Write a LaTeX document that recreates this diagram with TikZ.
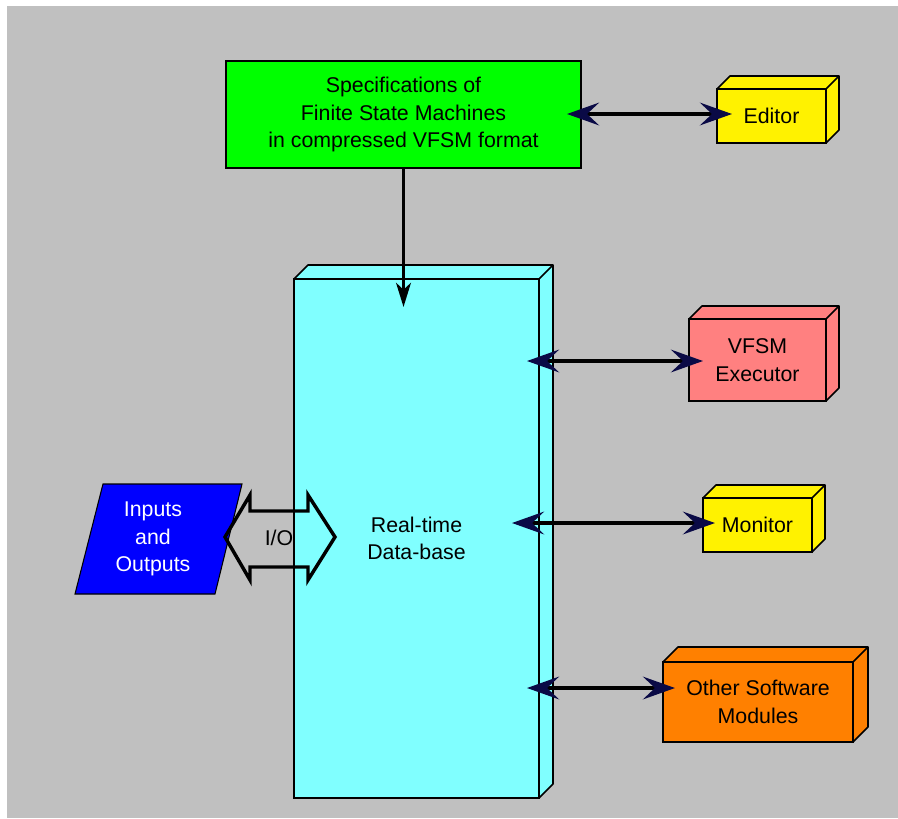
\documentclass[tikz,border=0pt]{standalone}
\usepackage{fontspec}
\setmainfont{Liberation Sans}
\usetikzlibrary{arrows.meta, calc}
\definecolor{panelgray}{HTML}{C0C0C0}
\definecolor{specgreen}{HTML}{00FF00}
\definecolor{dbcyan}{HTML}{80FFFF}
\definecolor{execred}{HTML}{FF8080}
\definecolor{modorange}{HTML}{FF8000}
\definecolor{ioblue}{HTML}{0000FF}
\definecolor{tipnavy}{HTML}{0A0A46}
\newcommand{\pxl}{0.75pt}
\tikzset{
  txt/.style={align=center, font=\fontsize{16}{20.5}\selectfont},
  block/.style={txt, draw, line width=1.2pt, outer sep=0pt, inner sep=0pt},
  link/.style={line width=2.8pt,
    {Stealth[length=24pt,width=17pt,inset=9pt,color=tipnavy]}-{Stealth[length=24pt,width=17pt,inset=9pt,color=tipnavy]}},
  feed/.style={line width=2.8pt, -{Stealth[length=18pt,width=11pt,inset=5pt]}},
}
% top and right face of a box node: name, colour, depth
\newcommand{\boxsides}[3]{%
  \filldraw[fill=#2, line width=1.2pt, line join=round] (#1.north west) -- ++(#3,-#3)
    -- ($(#1.north east)+(#3,-#3)$) -- ($(#1.south east)+(#3,-#3)$)
    -- (#1.south east) -- (#1.north east) -- cycle;
  \draw[line width=1.2pt] (#1.north east) -- ++(#3,-#3);}

\begin{document}
\begin{tikzpicture}[x=\pxl, y=-\pxl] % one unit = one pixel of the screen
  \useasboundingbox (0,0) rectangle (898,818);
  \fill[white] (0,0) rectangle (898,818);
  \fill[panelgray] (7,6) rectangle (898,818);

  \node[block, fill=specgreen, minimum width=355*\pxl, minimum height=107*\pxl] (spec) at (403.5,114.5)
    {Specifications of\\Finite State Machines\\in compressed VFSM format};
  \node[block, fill=dbcyan, minimum width=245*\pxl, minimum height=519*\pxl] (db) at (416.5,538.5)
    {Real-time\\Data-base};
  \boxsides{db}{dbcyan}{14}

  \node[block, fill=yellow, minimum width=109*\pxl, minimum height=54*\pxl] (editor) at (771.5,116) {Editor};
  \boxsides{editor}{yellow}{13}
  \node[block, fill=execred, minimum width=137*\pxl, minimum height=82*\pxl] (exec) at (757.5,360) {VFSM\\Executor};
  \boxsides{exec}{execred}{13}
  \node[block, fill=yellow, minimum width=109*\pxl, minimum height=54*\pxl] (monitor) at (757.5,525) {Monitor};
  \boxsides{monitor}{yellow}{13}
  \node[block, fill=modorange, minimum width=190*\pxl, minimum height=80*\pxl] (other) at (758,702)
    {Other Software\\Modules};
  \boxsides{other}{modorange}{15}

  \filldraw[fill=ioblue, line width=0.8pt] (103,484) -- (242,484) -- (215,594) -- (75,594) -- cycle;
  \node[txt, text=white] (inout) at (153,539) {Inputs\\and\\Outputs};

  \draw[line width=2.6pt] (225,537) -- (250,495) -- (250,511) -- (308,511) -- (308,495) -- (335,537)
    -- (308,580) -- (308,567) -- (250,567) -- (250,580) -- cycle;
  \node[txt] (iolabel) at (279,538) {I/O};

  \draw[feed] (spec.south) -- ($(spec.south |- db.north)+(0,28)$);
  \draw[link] ($(spec.east |- editor.west)+(-14,-2)$) -- ($(editor.west)+(15,-2)$);
  \draw[link] ($(db.east |- exec.west)+(-12,1)$) -- ($(exec.west)+(14,1)$);
  \draw[link] ($(db.east |- monitor.west)+(-27,-2)$) -- ($(monitor.west)+(12,-2)$);
  \draw[link] ($(db.east |- other.west)+(-12,-14)$) -- ($(other.west)+(12,-14)$);
\end{tikzpicture}
\end{document}
